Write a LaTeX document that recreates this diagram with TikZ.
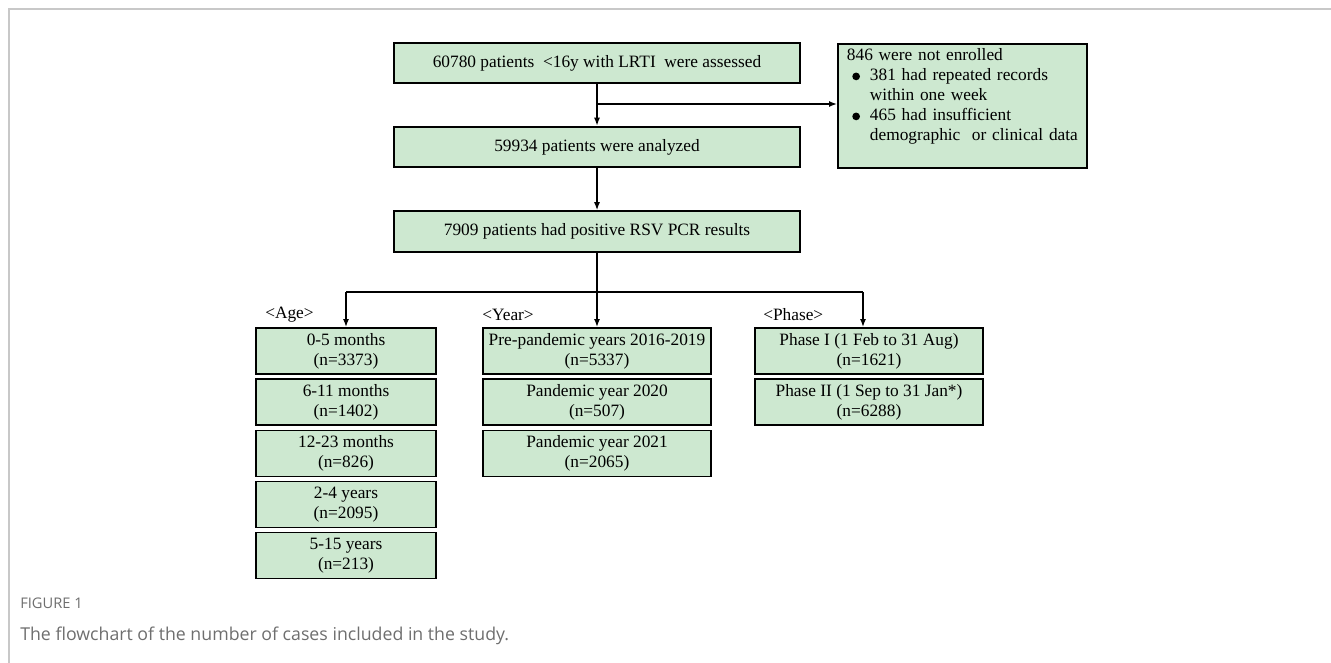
\documentclass[tikz,border=0pt]{standalone}
\usepackage{fontspec}
\setmainfont{Liberation Serif}
\newfontfamily\capfont{Open Sans}
\usetikzlibrary{arrows.meta,positioning,calc}
\definecolor{boxgreen}{HTML}{CDE8D0}
\definecolor{capgray}{HTML}{6E6E6E}
\definecolor{framegray}{HTML}{C8C8C8}
\newcommand{\bitem}{\makebox[17.25pt][l]{\hspace{4pt}\tikz[baseline=-3.4pt]\fill (0,0) circle (2.9pt);}}

\begin{document}
\begin{tikzpicture}[x=0.75pt,y=-0.75pt,
  box/.style={draw,line width=1.4pt,fill=boxgreen,inner sep=0pt,align=center,font=\fontsize{13}{15}\selectfont},
  wide/.style={box,minimum width=304.5pt,minimum height=30.5pt},
  cell/.style={box,minimum height=34.5pt},
  link/.style={line width=1.1pt},
  arr/.style={link,-{Latex[length=6pt,width=4.5pt]}},
  tag/.style={anchor=west,inner sep=0pt,font=\fontsize{13}{15}\selectfont}]
\useasboundingbox (0,0) rectangle (1331,663);
% page frame
\draw[framegray,line width=0.8pt] (9,663) -- (9,9) -- (1331,9);
% main column
\node[wide] (assess) at (597,63) {60780 patients\ \ {<}16y with LRTI\ \ were assessed};
\node[wide] (analyzed) at (597,147) {59934 patients were analyzed};
\node[wide] (rsv) at (597,231.5) {7909 patients had positive RSV PCR results};
\node[box,anchor=north west,minimum height=93pt,text width=173.25pt,inner xsep=6.75pt,align=left] (excl) at (837,43)
  {846 were not enrolled\\
   \bitem 381 had repeated records\\
   \hspace*{17.25pt}within one week\\
   \bitem 465 had insufficient\\
   \hspace*{17.25pt}demographic\ \ or clinical data\rule[-16.5pt]{0pt}{16.5pt}};
% age
\foreach \i/\y/\t/\n in {1/351/0-5 months/3373,2/402/6-11 months/1402,3/453.5/12-23 months/826,4/504.5/2-4 years/2095,5/555.5/5-15 years/213}
  \node[cell,minimum width=135pt] (age\i) at (346,\y) {\t\\(n=\n)};
% year
\foreach \i/\y/\t/\n in {1/351/Pre-pandemic years 2016-2019/5337,2/402/Pandemic year 2020/507,3/453.5/Pandemic year 2021/2065}
  \node[cell,minimum width=171pt] (year\i) at (597,\y) {\t\\(n=\n)};
% phase
\foreach \i/\y/\t/\n in {1/351/Phase I (1 Feb to 31 Aug)/1621,2/402/Phase II (1 Sep to 31 Jan*)/6288}
  \node[cell,minimum width=171pt] (phase\i) at (869,\y) {\t\\(n=\n)};
\node[tag] (agetag) at (265,315) {{<}Age{>}};
\node[tag] (yeartag) at (482,315) {{<}Year{>}};
\node[tag] (phasetag) at (763,315) {{<}Phase{>}};
% connectors
\coordinate (split) at (597,104);
\coordinate (bus) at (597,292);
\coordinate (phasedrop) at (863,292);
\draw[arr] (assess) -- (analyzed);
\draw[arr] (split) -- (split -| excl.west);
\draw[arr] (analyzed) -- (rsv);
\draw[arr] (rsv) -- (year1);
\draw[link] (age1.north |- bus) -- (phasedrop);
\draw[arr] (age1.north |- bus) -- (age1);
\draw[arr] (phasedrop) -- (phasedrop |- phase1.north);
% caption
\node[anchor=west,inner sep=0pt,text=capgray,font=\capfont\fontsize{11}{13}\selectfont] (fig) at (20,603) {FIGURE 1};
\node[anchor=west,inner sep=0pt,text=capgray,font=\capfont\fontsize{13.3}{16}\selectfont] (cap) at (20,636) {The flowchart of the number of cases included in the study.};
\end{tikzpicture}
\end{document}
